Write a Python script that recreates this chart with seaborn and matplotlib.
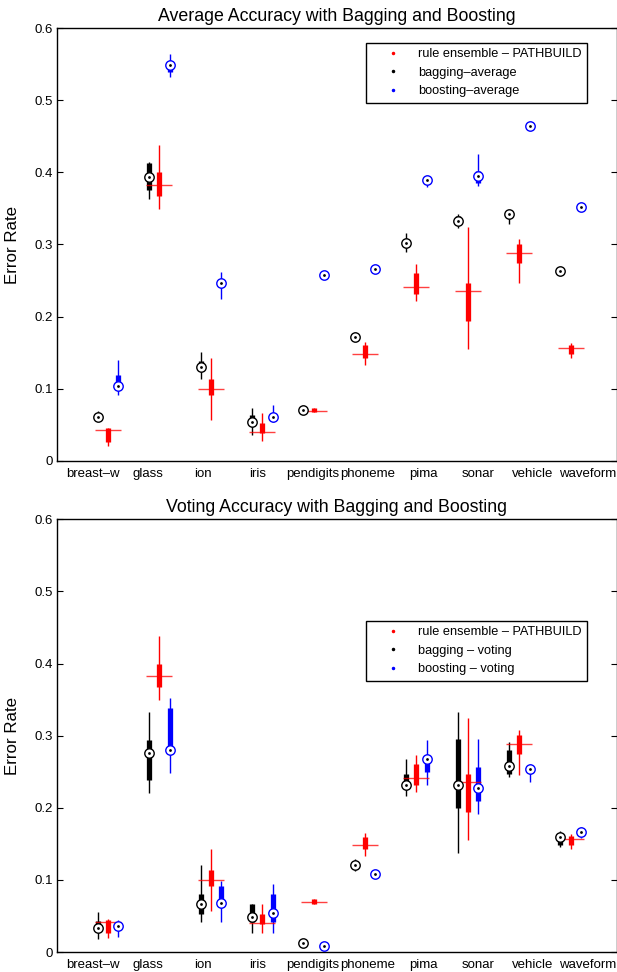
import numpy as np
import pandas as pd
import matplotlib
matplotlib.use("Agg")
import matplotlib.pyplot as plt
from matplotlib.lines import Line2D
import seaborn as sns

# datasets on the x axis
datasets = ["breast–w", "glass", "ion", "iris", "pendigits", "phoneme",
            "pima", "sonar", "vehicle", "waveform"]

# rule ensemble - PATHBUILD (same in both panels)
rule_med = [0.042, 0.383, 0.100, 0.040, 0.069, 0.148, 0.241, 0.236, 0.288, 0.157]
rule_q1 = [0.026, 0.367, 0.091, 0.039, 0.067, 0.143, 0.232, 0.194, 0.275, 0.148]
rule_q3 = [0.045, 0.400, 0.114, 0.053, 0.073, 0.160, 0.260, 0.247, 0.301, 0.161]
rule_lo = [0.020, 0.349, 0.057, 0.027, 0.067, 0.133, 0.222, 0.155, 0.246, 0.143]
rule_hi = [0.046, 0.438, 0.143, 0.066, 0.073, 0.165, 0.273, 0.324, 0.308, 0.163]

# bagging - average
bag_avg_med = [0.061, 0.394, 0.130, 0.054, 0.071, 0.171, 0.302, 0.332, 0.342, 0.263]
bag_avg_q1 = [0.059, 0.375, 0.128, 0.052, 0.070, 0.169, 0.299, 0.328, 0.339, 0.262]
bag_avg_q3 = [0.064, 0.413, 0.139, 0.064, 0.072, 0.173, 0.305, 0.339, 0.345, 0.264]
bag_avg_lo = [0.055, 0.363, 0.113, 0.035, 0.070, 0.168, 0.289, 0.323, 0.328, 0.262]
bag_avg_hi = [0.069, 0.414, 0.151, 0.073, 0.072, 0.174, 0.316, 0.342, 0.348, 0.264]

# boosting - average
boost_avg_med = [0.104, 0.549, 0.246, 0.061, 0.257, 0.266, 0.389, 0.395, 0.464, 0.352]
boost_avg_q1 = [0.100, 0.539, 0.243, 0.058, 0.256, 0.265, 0.385, 0.386, 0.463, 0.351]
boost_avg_q3 = [0.119, 0.549, 0.250, 0.064, 0.258, 0.267, 0.391, 0.402, 0.465, 0.353]
boost_avg_lo = [0.091, 0.532, 0.224, 0.054, 0.256, 0.265, 0.380, 0.381, 0.463, 0.351]
boost_avg_hi = [0.140, 0.564, 0.262, 0.077, 0.258, 0.267, 0.392, 0.426, 0.465, 0.353]

# bagging - voting
bag_vote_med = [0.033, 0.276, 0.066, 0.048, 0.012, 0.121, 0.231, 0.231, 0.258, 0.159]
bag_vote_q1 = [0.031, 0.239, 0.052, 0.041, 0.011, 0.119, 0.229, 0.200, 0.247, 0.148]
bag_vote_q3 = [0.043, 0.294, 0.080, 0.067, 0.013, 0.123, 0.247, 0.295, 0.280, 0.165]
bag_vote_lo = [0.018, 0.220, 0.041, 0.027, 0.011, 0.113, 0.217, 0.137, 0.242, 0.145]
bag_vote_hi = [0.056, 0.333, 0.120, 0.067, 0.013, 0.129, 0.268, 0.333, 0.291, 0.168]

# boosting - voting
boost_vote_med = [0.036, 0.280, 0.068, 0.054, 0.009, 0.108, 0.267, 0.228, 0.254, 0.167]
boost_vote_q1 = [0.034, 0.280, 0.068, 0.041, 0.008, 0.107, 0.250, 0.210, 0.252, 0.165]
boost_vote_q3 = [0.038, 0.339, 0.092, 0.080, 0.010, 0.109, 0.267, 0.257, 0.256, 0.169]
boost_vote_lo = [0.021, 0.248, 0.041, 0.027, 0.008, 0.107, 0.232, 0.191, 0.236, 0.158]
boost_vote_hi = [0.044, 0.352, 0.098, 0.094, 0.010, 0.109, 0.294, 0.295, 0.260, 0.174]

yticks = [0, 0.1, 0.2, 0.3, 0.4, 0.5, 0.6]
ytick_labels = ["0", "0.1", "0.2", "0.3", "0.4", "0.5", "0.6"]

sns.set_style("white", {"axes.edgecolor": "black", "text.color": "black",
                        "axes.labelcolor": "black", "xtick.color": "black",
                        "ytick.color": "black"})
plt.rcParams["font.family"] = ["Liberation Sans", "DejaVu Sans"]

RED, BLACK, BLUE = "#ff0000", "#000000", "#0000ff"
pos = np.arange(1, len(datasets) + 1)


def draw_group(ax, x, lo, q1, q3, hi, color):
    ax.vlines(x, lo, hi, color=color, lw=1.0)
    ax.vlines(x, q1, q3, color=color, lw=3.8, capstyle="butt")


def draw_medians(ax, x, med, color):
    df = pd.DataFrame({"x": x, "y": med})
    sns.scatterplot(data=df, x="x", y="y", ax=ax, marker="o", s=46,
                    facecolor="white", edgecolor=color, linewidth=1.0, zorder=4)
    sns.scatterplot(data=df, x="x", y="y", ax=ax, marker="o", s=4,
                    color="black", linewidth=0, zorder=5)


def panel(ax, title, bag, boost, labels, legend_y):
    draw_group(ax, pos, bag[3], bag[1], bag[2], bag[4], BLACK)
    draw_group(ax, pos + 0.2, rule_lo, rule_q1, rule_q3, rule_hi, RED)
    draw_group(ax, pos + 0.4, boost[3], boost[1], boost[2], boost[4], BLUE)

    rdf = pd.DataFrame({"x": pos + 0.2, "y": rule_med})
    sns.scatterplot(data=rdf, x="x", y="y", ax=ax, marker="_", s=370,
                    color=RED, linewidth=1.0, alpha=0.75, zorder=3)

    draw_medians(ax, pos, bag[0], BLACK)
    draw_medians(ax, pos + 0.4, boost[0], BLUE)

    ax.set_xlim(0.208, 11.09)
    ax.set_ylim(0, 0.6)
    ax.set_yticks(yticks)
    ax.set_yticklabels(ytick_labels, fontsize=9.5)
    ax.set_xticks(0.905 + 1.070 * (pos - 1))
    ax.set_xticklabels(datasets, fontsize=9.5)
    ax.tick_params(axis="x", length=0, pad=5)
    ax.tick_params(axis="y", direction="in", left=True, right=True,
                   length=4, width=0.8, pad=3)
    for s in ax.spines.values():
        s.set_linewidth(1.0)
        s.set_color("black")
    ax.set_xlabel("")
    ax.set_ylabel("Error Rate", fontsize=12.2)
    ax.yaxis.set_label_coords(-0.066, 0.5)
    ax.set_title(title, fontsize=12.8, pad=5)

    handles = [Line2D([], [], marker=".", ls="", color=c, markersize=3)
               for c in (RED, BLACK, BLUE)]
    leg = ax.legend(handles, labels, loc="upper right",
                    bbox_to_anchor=(0.948, legend_y), fontsize=9.2,
                    frameon=True, fancybox=False, framealpha=1,
                    edgecolor="black", borderpad=0.45, handlelength=3.3,
                    handletextpad=0.3, labelspacing=0.5, borderaxespad=0)
    leg.get_frame().set_linewidth(1.0)


fig = plt.figure(figsize=(6.17, 9.72), dpi=100)
ax_top = fig.add_axes([57 / 617, 1 - 460.7 / 972, 559.5 / 617, 432.4 / 972])
ax_bot = fig.add_axes([57 / 617, 1 - 952 / 972, 559.5 / 617, 432.7 / 972])

panel(ax_top, "Average Accuracy with Bagging and Boosting",
      (bag_avg_med, bag_avg_q1, bag_avg_q3, bag_avg_lo, bag_avg_hi),
      (boost_avg_med, boost_avg_q1, boost_avg_q3, boost_avg_lo, boost_avg_hi),
      ["rule ensemble – PATHBUILD", "bagging–average", "boosting–average"],
      0.967)
panel(ax_bot, "Voting Accuracy with Bagging and Boosting",
      (bag_vote_med, bag_vote_q1, bag_vote_q3, bag_vote_lo, bag_vote_hi),
      (boost_vote_med, boost_vote_q1, boost_vote_q3, boost_vote_lo, boost_vote_hi),
      ["rule ensemble – PATHBUILD", "bagging – voting", "boosting – voting"],
      0.766)

fig.savefig("out.png", dpi=100)
